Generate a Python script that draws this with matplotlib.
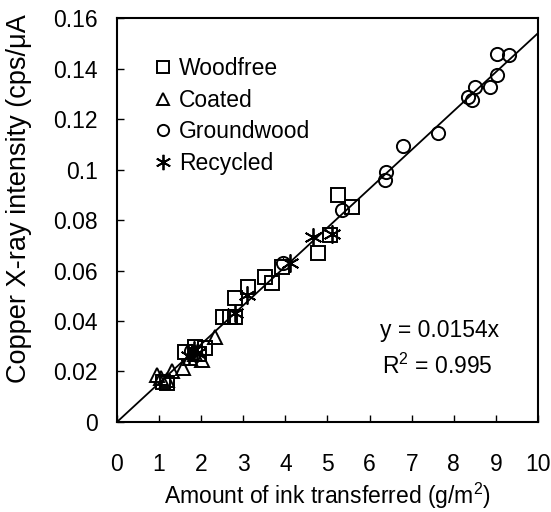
import numpy as np
import matplotlib
matplotlib.use("Agg")
import matplotlib.pyplot as plt

plt.rcParams['font.family'] = ['Liberation Sans', 'DejaVu Sans']
plt.rcParams['mathtext.fontset'] = 'custom'
plt.rcParams['mathtext.rm'] = 'Liberation Sans'

# Ink transferred (g/m2) vs Cu X-ray intensity (cps/uA), per paper grade
woodfree_x = [1.10, 1.20, 1.61, 1.85, 2.09, 1.95, 2.52, 2.69, 2.80, 2.80, 3.11, 3.52, 3.68, 3.92, 4.77, 5.06, 5.25, 5.58]
woodfree_y = [0.0158, 0.0154, 0.0277, 0.0297, 0.0293, 0.0270, 0.0416, 0.0416, 0.0416, 0.0490, 0.0535, 0.0574, 0.0550, 0.0614, 0.0670, 0.0740, 0.0899, 0.0851]

coated_x = [0.95, 1.05, 1.19, 1.31, 1.57, 1.73, 1.85, 2.02, 2.33]
coated_y = [0.0186, 0.0176, 0.0166, 0.0200, 0.0214, 0.0253, 0.0270, 0.0245, 0.0337]

groundwood_x = [1.75, 3.95, 5.34, 6.37, 6.39, 6.79, 7.62, 8.34, 8.43, 8.50, 8.86, 9.02, 9.02, 9.30]
groundwood_y = [0.0280, 0.0630, 0.0840, 0.0958, 0.0990, 0.1095, 0.1145, 0.1287, 0.1275, 0.1325, 0.1327, 0.1374, 0.1458, 0.1455]

recycled_x = [1.70, 1.82, 1.90, 2.80, 3.09, 4.11, 4.66, 5.10]
recycled_y = [0.0260, 0.0285, 0.0275, 0.0432, 0.0503, 0.0630, 0.0733, 0.0745]

slope = 0.0154
r_squared = 0.995

fig = plt.figure(figsize=(5.51, 5.12), dpi=100)
ax = fig.add_axes([0.2123, 0.1758, 0.7641, 0.789])

mk = dict(linestyle='none', markersize=9.5, markeredgewidth=1.4,
          markerfacecolor='none', markeredgecolor='black', color='black')
ax.plot(woodfree_x, woodfree_y, marker='s', label='Woodfree', **mk)
ax.plot(coated_x, coated_y, marker='^', label='Coated', **mk)
ax.plot(groundwood_x, groundwood_y, marker='o', label='Groundwood', **mk)
star = dict(mk, markersize=13, markeredgewidth=1.3)
ax.plot(recycled_x, recycled_y, marker=(6, 2, 0), label='Recycled', **star)

# linear fit through origin
fit_x = np.array([0, 10])
ax.plot(fit_x, slope * fit_x, color='black', linewidth=1.3)

ax.set_xlim(0, 10)
ax.set_ylim(0, 0.16)
ax.set_xticks(np.arange(0, 11, 1))
ax.set_yticks(np.arange(0, 0.161, 0.02))
ax.set_yticklabels(['0', '0.02', '0.04', '0.06', '0.08', '0.1', '0.12', '0.14', '0.16'])

for s in ax.spines.values():
    s.set_linewidth(1.5)
ax.tick_params(axis='x', direction='in', length=5, width=1, pad=22, labelsize=16.5)
ax.tick_params(axis='y', direction='in', length=5, width=1, pad=14, labelsize=16.5)

ax.set_xlabel('Amount of ink transferred (g/m$^2$)', fontsize=16.5, labelpad=4)
fig.text(19 / 551, 1 - 383 / 512, 'Copper X-ray intensity (cps/\u03bcA', rotation=90,
         ha='center', va='bottom', fontsize=19.5)

ax.text(7.67, 0.0364, 'y = %.4fx' % slope, ha='center', va='center', fontsize=16.5)
ax.text(7.62, 0.0222, 'R$^2$ = %.3f' % r_squared, ha='center', va='center', fontsize=16.5)

ax.legend(loc='upper left', bbox_to_anchor=(0.092, 0.903), frameon=False,
          fontsize=16.5, handlelength=0.6, handletextpad=0.4, labelspacing=0.37,
          markerscale=0.85, borderpad=0, borderaxespad=0)

fig.savefig('out.png', dpi=100)
